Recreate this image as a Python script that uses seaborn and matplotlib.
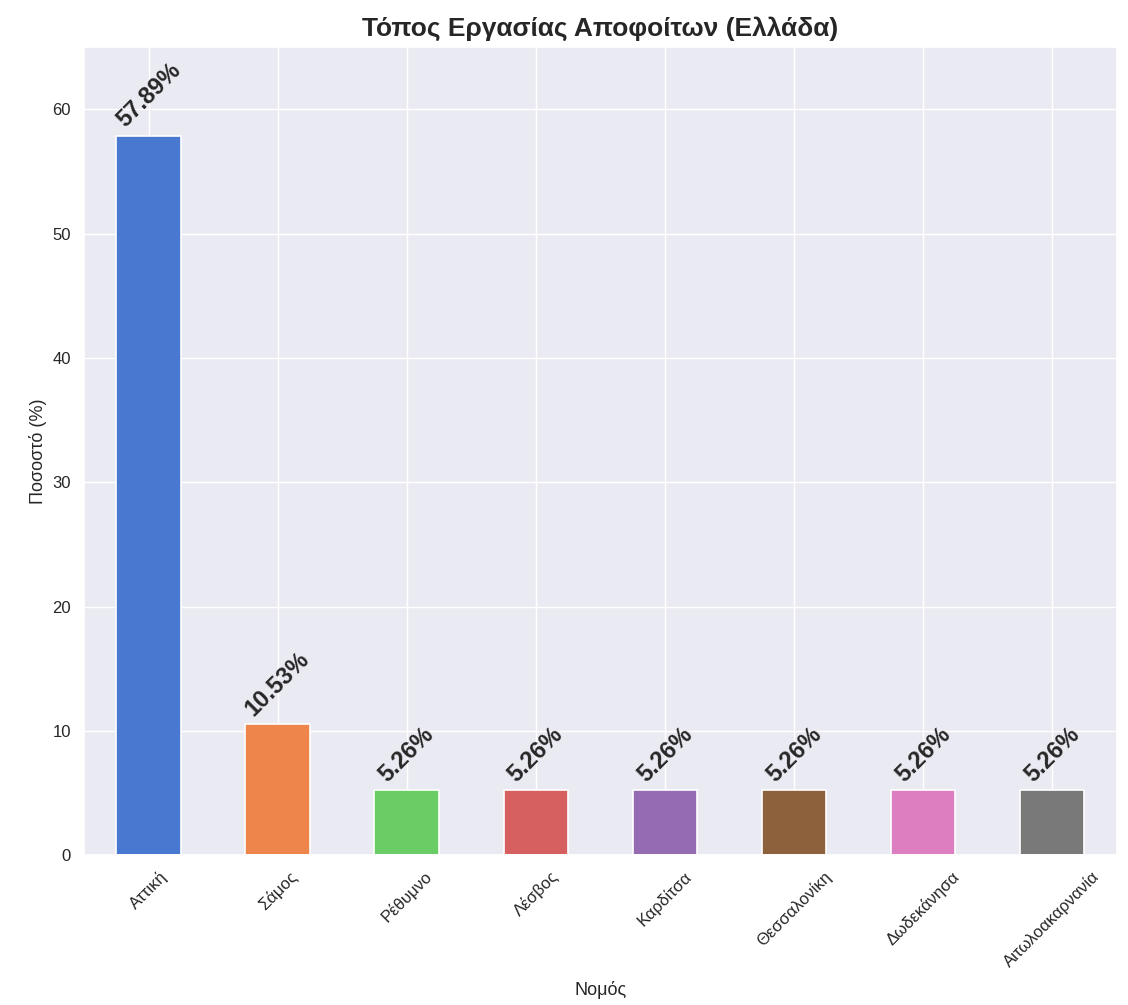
import pandas as pd
import matplotlib.pyplot as plt
import seaborn as sns

regions = ['Αττική', 'Σάμος', 'Ρέθυμνο', 'Λέσβος', 'Καρδίτσα',
           'Θεσσαλονίκη', 'Δωδεκάνησα', 'Αιτωλοακαρνανία']
percentages = [57.89, 10.53, 5.26, 5.26, 5.26, 5.26, 5.26, 5.26]

df = pd.DataFrame({'Νομός': regions, 'Ποσοστό': percentages})

sns.set_theme(style='darkgrid')
plt.rcParams['font.family'] = ['Liberation Sans', 'DejaVu Sans']

fig = plt.figure(figsize=(11.28, 10.05), dpi=100)
ax = fig.add_axes([0.0745, 0.149, 0.9155, 0.804])

sns.barplot(data=df, x='Νομός', y='Ποσοστό', hue='Νομός', palette='muted',
            saturation=1, width=0.5, edgecolor='white', linewidth=1.2,
            legend=False, ax=ax)

for i, v in enumerate(percentages):
    ax.text(i, v + 0.3, f'{v:.2f}%', ha='center', va='bottom', rotation=45,
            fontsize=17, fontweight='bold', color='#262626')

ax.set_ylim(0, 65)
ax.set_xlim(-0.5, 7.5)
ax.grid(True, axis='both')
ax.set_axisbelow(True)
ax.set_title('Τόπος Εργασίας Αποφοίτων (Ελλάδα)', fontsize=19, fontweight='bold', pad=8)
ax.set_xlabel('Νομός', fontsize=13, labelpad=8)
ax.set_ylabel('Ποσοστό (%)', fontsize=13)
ax.tick_params(axis='both', labelsize=12)
plt.setp(ax.get_xticklabels(), rotation=45, ha='center')

fig.savefig('out.png', dpi=100, facecolor='white')
